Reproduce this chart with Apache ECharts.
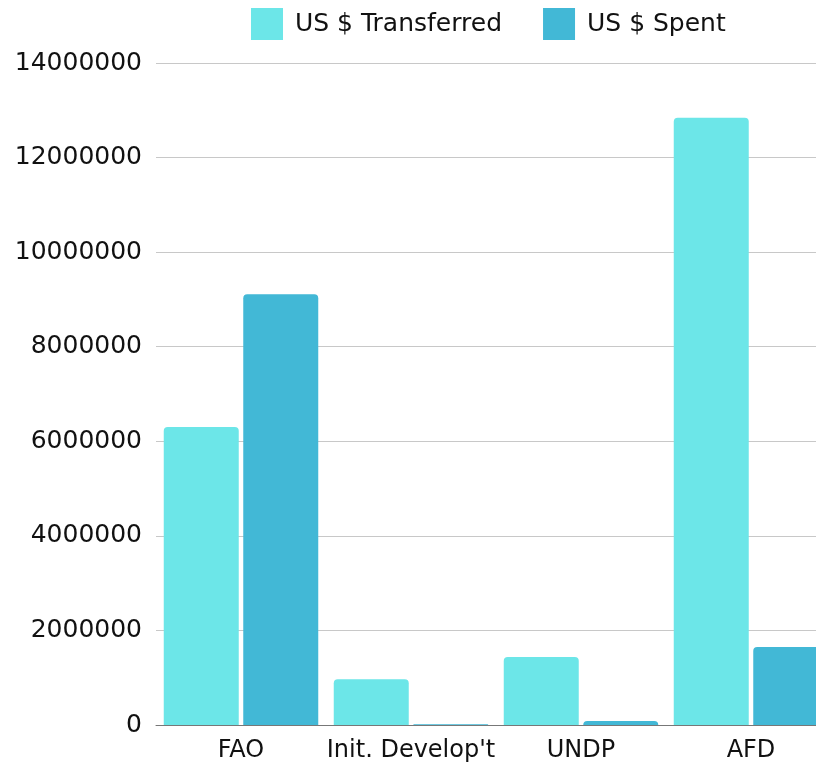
<!DOCTYPE html>
<html>
<head>
<meta charset="utf-8">
<script src="https://cdn.jsdelivr.net/npm/echarts@6/dist/echarts.min.js"></script>
<style>
  html, body { margin: 0; padding: 0; background: #fff; overflow: hidden; }
  #chart { width: 840px; height: 767px; }
</style>
</head>
<body>
<div id="chart"></div>
<script>
const categories = ["FAO", "Init. Develop't", "UNDP", "AFD"];
const transferred = [6300000, 970000, 1440000, 12840000];
const spent = [9110000, 15000, 85000, 1650000];
const yTicks = { min: 0, max: 14000000, interval: 2000000 };

const font = "DejaVu Sans";
const chart = echarts.init(document.getElementById("chart"));
chart.setOption({
  animation: false,
  legend: {
    top: 8,
    left: 251,
    padding: 0,
    itemWidth: 32,
    itemHeight: 32,
    itemGap: 41,
    icon: "rect",
    textStyle: { fontFamily: font, fontSize: 25, color: "#111", padding: [0, 0, 0, 7] },
    data: ["US $ Transferred", "US $ Spent"],
  },
  grid: { left: 156, top: 63, width: 680, height: 662, containLabel: false },
  xAxis: {
    type: "category",
    data: categories,
    axisLine: { lineStyle: { color: "#777", width: 1 } },
    axisTick: { show: false },
    axisLabel: { fontFamily: font, fontSize: 24, color: "#111", margin: 14, interval: 0, hideOverlap: false },
  },
  yAxis: {
    type: "value",
    min: yTicks.min,
    max: yTicks.max,
    interval: yTicks.interval,
    axisLine: { show: false },
    axisTick: { show: false },
    splitLine: { lineStyle: { color: "#c8c8c8" } },
    axisLabel: { fontFamily: font, fontSize: 25, color: "#111", margin: 14, formatter: (v) => String(v) },
  },
  series: [
    {
      name: "US $ Transferred",
      type: "bar",
      data: transferred,
      barWidth: 75,
      barGap: "6%",
      itemStyle: { color: "#6ce6e8", borderRadius: [4, 4, 0, 0] },
    },
    {
      name: "US $ Spent",
      type: "bar",
      data: spent,
      barWidth: 75,
      barGap: "6%",
      itemStyle: { color: "#42b8d6", borderRadius: [4, 4, 0, 0] },
    },
  ],
});
</script>
</body>
</html>
